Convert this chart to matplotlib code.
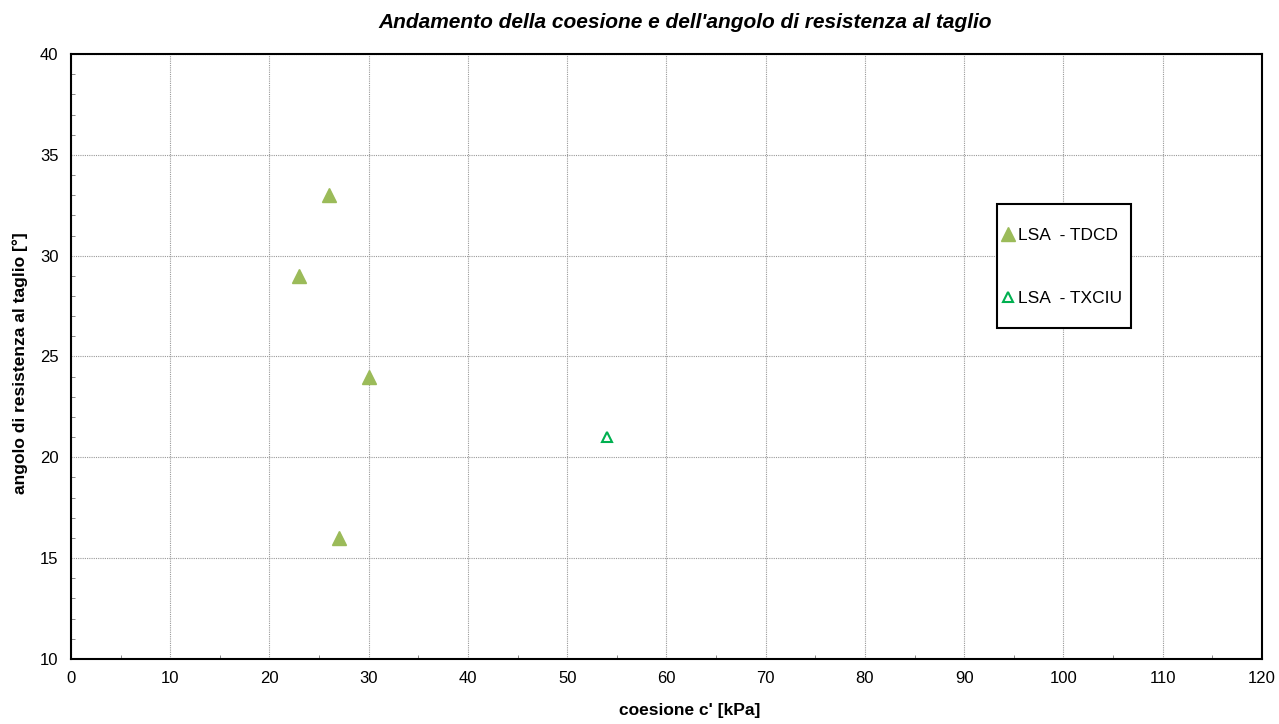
import matplotlib
matplotlib.use("Agg")
from matplotlib import pyplot as plt
from matplotlib.ticker import MultipleLocator
from matplotlib.patches import Rectangle

plt.rcParams['font.family'] = ['Liberation Sans', 'DejaVu Sans']

# data
tdcd_c = [26, 23, 30, 27]
tdcd_phi = [33, 29, 24, 16]
txciu_c = [54]
txciu_phi = [21]

fig = plt.figure(figsize=(12.79, 7.24), dpi=100)
ax = fig.add_axes([0.0555, 0.0898, 0.9312, 0.8356])

ax.plot(tdcd_c, tdcd_phi, linestyle='none', marker='^', markersize=10,
        color='#9BBB59', label='LSA  - TDCD')
ax.plot(txciu_c, txciu_phi, linestyle='none', marker='^', markersize=7,
        markerfacecolor='white', markeredgecolor='#00B050', markeredgewidth=1.5,
        label='LSA  - TXCIU')

ax.set_xlim(0, 120)
ax.set_ylim(10, 40)
ax.xaxis.set_major_locator(MultipleLocator(10))
ax.xaxis.set_minor_locator(MultipleLocator(5))
ax.yaxis.set_major_locator(MultipleLocator(5))
ax.yaxis.set_minor_locator(MultipleLocator(1))
ax.tick_params(which='both', direction='in', labelsize=12)
ax.tick_params(which='major', length=0, pad=9)
ax.tick_params(which='minor', length=3, width=0.6, color='#777777')
ax.grid(which='major', color='#999999', linestyle=(0, (1, 1)), linewidth=0.8)
for s in ax.spines.values():
    s.set_linewidth(1.5)

# title and axis labels (Excel places them slightly right of centre)
fig.text(0.5356, 0.9613, "Andamento della coesione e dell'angolo di resistenza al taglio",
         fontsize=15, fontweight='bold', style='italic', ha='center', va='baseline')
fig.text(0.5395, 0.0124, "coesione c' [kPa]", fontsize=12.5, fontweight='bold',
         ha='center', va='baseline')
fig.text(0.0156, 0.4986, "angolo di resistenza al taglio [°]", fontsize=12.5,
         fontweight='bold', rotation=90, ha='center', va='center')

# legend box
ax.add_patch(Rectangle((0.7775, 0.5471), 0.1125, 0.205, transform=ax.transAxes,
                       facecolor='white', edgecolor='black', linewidth=1.5, zorder=5))
leg = ax.legend(loc='center left', bbox_to_anchor=(0.7825, 0.648), fontsize=12.5,
                frameon=False, handlelength=0.6, handletextpad=0.26,
                labelspacing=2.75, borderpad=0, borderaxespad=0)
leg.set_zorder(6)

fig.savefig('out.png', dpi=100)
